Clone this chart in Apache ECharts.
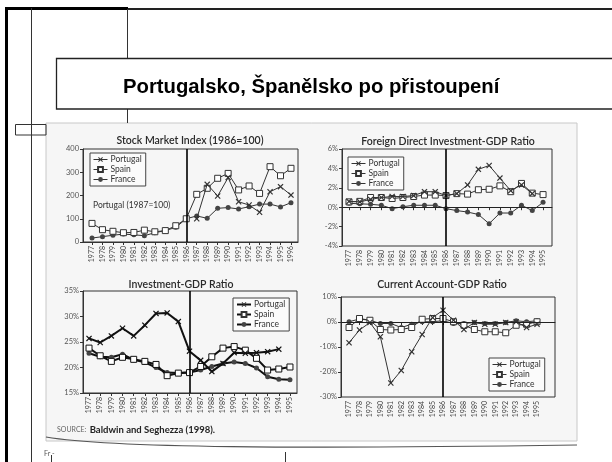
<!DOCTYPE html>
<html><head><meta charset="utf-8">
<script src="https://cdn.jsdelivr.net/npm/echarts@6/dist/echarts.min.js"></script>
<style>html,body{margin:0;padding:0;background:#fff}#c{width:612px;height:462px}</style>
</head><body><div id="c"></div>
<script>
// ---------- data ----------
const yearsStock = [1977,1978,1979,1980,1981,1982,1983,1984,1985,1986,1987,1988,1989,1990,1991,1992,1993,1994,1995,1996];
const yearsRatio = [1977,1978,1979,1980,1981,1982,1983,1984,1985,1986,1987,1988,1989,1990,1991,1992,1993,1994,1995];

const stockPortugal = [null,null,null,null,null,null,null,null,null,null,100,248,198,277,173,159,128,216,238,202];
const stockSpain    = [80,53,46,40,41,51,44,49,70,100,205,231,274,295,224,241,209,324,285,317];
const stockFrance   = [17,23,29,34,31,27,40,49,63,100,112,102,145,148,142,152,163,163,151,169];

const fdiPortugal = [0.6,0.55,0.8,1.0,1.1,1.1,1.2,1.6,1.6,1.2,1.4,2.3,3.9,4.3,3.0,1.7,2.3,1.4,null];
const fdiSpain    = [0.55,0.6,1.0,1.0,0.9,1.0,1.1,1.25,1.25,1.2,1.4,1.35,1.8,1.85,2.2,1.6,2.45,1.45,1.3];
const fdiFrance   = [0.4,0.35,0.3,0.2,-0.15,0.05,0.2,0.2,0.2,-0.15,-0.35,-0.5,-0.75,-1.7,-0.6,-0.6,0.2,-0.35,0.5];

const invPortugal = [25.7,24.9,26.2,27.7,26.2,28.3,30.6,30.7,29.0,23.2,21.4,19.2,20.8,22.9,22.8,22.9,23.1,23.6,null];
const invSpain    = [23.8,22.3,21.2,22.0,21.6,21.2,20.6,18.4,18.9,19.0,20.2,22.1,23.8,24.1,23.4,21.8,19.5,19.7,20.1];
const invFrance   = [22.8,22.1,22.0,22.6,21.5,21.0,20.0,19.0,18.9,19.0,19.5,20.2,20.8,21.1,20.8,19.9,18.2,17.7,17.6];

const caPortugal = [-8.3,-3.2,-0.2,-5.9,-24.4,-19.4,-11.9,-5.0,1.8,4.7,0.7,-3.0,-0.2,-0.9,-0.9,-0.2,0.1,-2.2,-0.9];
const caSpain    = [-2.2,1.4,0.7,-3.0,-3.2,-3.0,-2.2,1.1,1.4,1.4,0.1,-1.3,-3.0,-3.9,-3.9,-4.3,-1.3,-0.9,0.1];
const caFrance   = [0.1,1.2,0.7,-0.6,-0.6,-2.2,-0.9,0.1,0.1,0.5,-0.6,-0.6,-0.2,-0.6,-0.6,-0.2,0.5,0.1,0.5];

const countries = ['Portugal','Spain','France'];
const chartTitles = ['Stock Market Index (1986=100)','Foreign Direct Investment-GDP Ratio','Investment-GDP Ratio','Current Account-GDP Ratio'];
const slideTitle = 'Portugalsko, Španělsko po přistoupení';

// ---------- styles ----------
const FONT = 'Lato, "Open Sans", sans-serif';
const INK = '#2a2a2a';
const X_PATH = 'path://M0,1.4L1.4,0L5,3.6L8.6,0L10,1.4L6.4,5L10,8.6L8.6,10L5,6.4L1.4,10L0,8.6L3.6,5Z';

function pairs(xs, ys){ return xs.map((x,i)=>[x, ys[i]]); }

const gridsDef = [
  {left:83, top:149, width:215, height:93, xmin:1976.14, xmax:1996.67, years:yearsStock, ymin:0, ymax:400, yint:100, pct:false},
  {left:342, top:149, width:210, height:97, xmin:1976.35, xmax:1995.83, years:yearsRatio, ymin:-4, ymax:6, yint:2, pct:true},
  {left:83, top:291, width:214, height:102, xmin:1976.46, xmax:1995.63, years:yearsRatio, ymin:15, ymax:35, yint:5, pct:true},
  {left:341, top:297, width:214, height:100, xmin:1976.23, xmax:1996.72, years:yearsRatio, ymin:-30, ymax:10, yint:10, pct:true}
];

const grid = gridsDef.map(g=>({left:g.left, top:g.top, width:g.width, height:g.height, show:true, borderColor:'#333', borderWidth:1, backgroundColor:'transparent'}));
const xAxis = gridsDef.map((g,i)=>({
  type:'value', gridIndex:i, min:g.xmin, max:g.xmax,
  axisLine:{show:true, lineStyle:{color:'#333', width:1}},
  axisTick:{show:true, length:3, customValues:g.years, lineStyle:{color:'#333'}},
  axisLabel:{show:true, rotate:90, fontSize:7, color:'#444', fontFamily:FONT, margin:4, customValues:g.years, formatter:v=>String(v)},
  splitLine:{show:false}
}));
const yAxis = gridsDef.map((g,i)=>({
  type:'value', gridIndex:i, min:g.ymin, max:g.ymax, interval:g.yint,
  axisLine:{show:true, lineStyle:{color:'#333', width:1}},
  axisTick:{show:true, length:3, lineStyle:{color:'#333'}},
  axisLabel:{fontSize:7.5, color:'#555', fontFamily:FONT, margin:4, formatter:v=> g.pct ? (v+'%') : String(v)},
  splitLine:{show:false}
}));

function styleFor(country, thick){
  const w = thick ? 2 : 1;
  const c = thick ? '#111' : '#333';
  if (country==='Portugal') return {symbol:X_PATH, symbolSize:6, itemStyle:{color:c}, lineStyle:{color:c, width:w}};
  if (country==='Spain') return {symbol:'rect', symbolSize:6, itemStyle:{color:'#fff', borderColor:c, borderWidth:1}, lineStyle:{color:c, width:w}};
  return {symbol:'circle', symbolSize:5, itemStyle:{color:'#444'}, lineStyle:{color:c, width:w}};
}

const dataSets = [
  [stockPortugal, stockSpain, stockFrance],
  [fdiPortugal, fdiSpain, fdiFrance],
  [invPortugal, invSpain, invFrance],
  [caPortugal, caSpain, caFrance]
];

const series = [];
dataSets.forEach((set, gi)=>{
  const xs = gridsDef[gi].years;
  set.forEach((vals, ci)=>{
    const s = Object.assign({
      type:'line', name:countries[ci], xAxisIndex:gi, yAxisIndex:gi,
      data:pairs(xs, vals), connectNulls:false, animation:false, showAllSymbol:true, z: 3 - ci
    }, styleFor(countries[ci], gi===2));
    if (ci===0){
      const ml = [{xAxis:1986, lineStyle:{color:'#000', width:1.6}}];
      if (gi===1 || gi===3) ml.push({yAxis:0, lineStyle:{color:'#222', width:1}});
      s.markLine = {silent:true, symbol:'none', label:{show:false}, lineStyle:{type:'solid'}, data:ml, animation:false};
    }
    series.push(s);
  });
});

const titlePos = [[190,135],[448,136],[181,279],[442,279]];
const title = chartTitles.map((t,i)=>({
  text:t, left:titlePos[i][0], top:titlePos[i][1], textAlign:'center', padding:0,
  textStyle:{fontSize:10.5, fontWeight:600, color:INK, fontFamily:FONT}
}));

const legendPos = [[90,153,false],[348,157,false],[233,298,true],[489,358,false]];
const legend = legendPos.map(p=>({
  data:countries, orient:'vertical', left:p[0], top:p[1], selectedMode:false,
  borderColor:'#444', borderWidth:1, borderRadius:0, padding:[2,4,2,3], itemGap:1,
  itemWidth:14, itemHeight:6, backgroundColor:'#fbfbfb',
  lineStyle: p[2] ? {width:2, color:'#111', type:'solid'} : {width:1, color:'#333', type:'solid'},
  textStyle:{fontSize:8.5, color:'#333', fontFamily:FONT, padding:[0,0,0,-2]}
}));

const graphic = [
  // scanned page background
  {type:'rect', z:-20, shape:{x:46, y:123, width:531, height:318}, style:{fill:'#f6f6f6', stroke:'#c8c8c8', lineWidth:1}},
  {type:'bezierCurve', z:-19, shape:{x1:46, y1:437, cpx1:110, cpy1:448, cpx2:300, cpy2:449, x2:577, y2:445}, style:{stroke:'#555', lineWidth:1.2, fill:null}},
  // slide frame
  {type:'rect', shape:{x:5, y:8, width:3, height:454}, style:{fill:'#000'}},
  {type:'rect', shape:{x:5, y:7, width:123, height:3}, style:{fill:'#000'}},
  {type:'line', shape:{x1:128, y1:9, x2:612, y2:9}, style:{stroke:'#222', lineWidth:2}},
  {type:'line', shape:{x1:31.5, y1:8, x2:31.5, y2:462}, style:{stroke:'#333', lineWidth:1}},
  {type:'line', shape:{x1:127.5, y1:9, x2:127.5, y2:58}, style:{stroke:'#333', lineWidth:1}},
  {type:'line', shape:{x1:127.5, y1:109, x2:127.5, y2:123}, style:{stroke:'#333', lineWidth:1}},
  {type:'rect', shape:{x:56.5, y:58.5, width:600, height:50.5}, style:{fill:'#fff', stroke:'#222', lineWidth:1.3}},
  {type:'text', x:123, y:87, style:{text:slideTitle, font:'bold 20.3px "Liberation Sans", Arial, sans-serif', fill:'#000', verticalAlign:'middle'}},
  {type:'rect', shape:{x:15.5, y:124.5, width:30.5, height:10.5}, style:{fill:null, stroke:'#333', lineWidth:1}},
  // notes
  {type:'text', x:93, y:205, style:{text:'Portugal (1987=100)', fontSize:8.5, fontFamily:FONT, fill:'#333', verticalAlign:'middle'}},
  {type:'text', x:57, y:430, style:{text:'{a|SOURCE:} {b|Baldwin and Seghezza (1998).}', verticalAlign:'middle',
     rich:{a:{fontSize:7, fill:'#666', fontFamily:FONT}, b:{fontSize:9.5, fontWeight:'bold', fill:'#222', fontFamily:FONT}}}},
  {type:'text', x:44, y:454, style:{text:'Fr -', fontSize:7, fill:'#555', fontFamily:FONT, verticalAlign:'middle'}},
  {type:'line', shape:{x1:51.5, y1:455, x2:51.5, y2:462}, style:{stroke:'#333', lineWidth:1}},
  {type:'line', shape:{x1:285.5, y1:452, x2:285.5, y2:462}, style:{stroke:'#333', lineWidth:1}}
];

const chart = echarts.init(document.getElementById('c'), null, {renderer:'canvas'});
chart.setOption({
  backgroundColor:'#fff', animation:false,
  title, legend, grid, xAxis, yAxis, series, graphic
});
</script>
</body></html>
